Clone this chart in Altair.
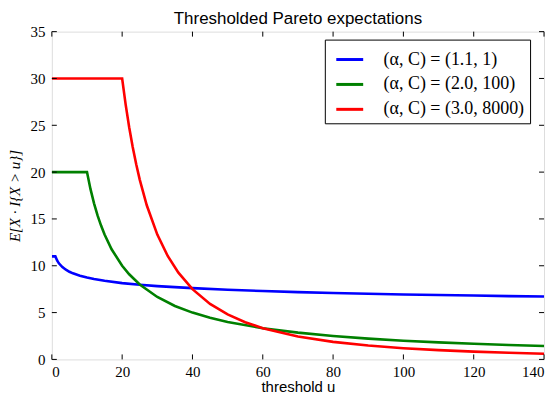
import altair as alt
import pandas as pd

# Series
title_text = ["Thresholded Pareto expectations"]
labels = ["(α, C) = (1.1, 1)", "(α, C) = (2.0, 100)", "(α, C) = (3.0, 8000)"]
colors = ["#0000ff", "#008000", "#ff0000"]

u1 = [0, 1, 1.5, 2, 3, 4, 5, 6, 8, 10, 12, 15, 20, 25, 30, 40, 50, 60, 70, 80, 90, 100, 110, 120, 130, 140]
v1 = [11, 11, 10.56, 10.26, 9.86, 9.58, 9.36, 9.19, 8.94, 8.74, 8.58, 8.39, 8.15, 7.97, 7.83, 7.61, 7.44,
      7.30, 7.19, 7.10, 7.01, 6.94, 6.88, 6.82, 6.76, 6.71]

u2 = [0, 10, 11, 12, 13, 14, 15, 17, 20, 22, 25, 30, 35, 40, 45, 50, 60, 70, 80, 90, 100, 110, 120, 130, 140]
v2 = [20, 20, 18.18, 16.67, 15.38, 14.29, 13.33, 11.76, 10, 9.09, 8, 6.67, 5.71, 5, 4.44, 4, 3.33, 2.86,
      2.5, 2.22, 2, 1.82, 1.67, 1.54, 1.43]

u3 = [0, 20, 21, 22, 23, 24, 25, 27, 30, 33, 36, 40, 45, 50, 55, 60, 70, 80, 90, 100, 110, 120, 130, 140]
v3 = [30, 30, 27.21, 24.79, 22.68, 20.83, 19.2, 16.46, 13.33, 11.02, 9.26, 7.5, 5.93, 4.8, 3.97, 3.33,
      2.45, 1.875, 1.48, 1.2, 0.99, 0.833, 0.71, 0.61]

x_ticks = [0, 20, 40, 60, 80, 100, 120, 140]
y_ticks = [0, 5, 10, 15, 20, 25, 30, 35]

rows = []
for lab, us, vs in zip(labels, [u1, u2, u3], [v1, v2, v3]):
    for i, (a, b) in enumerate(zip(us, vs)):
        rows.append({"series": lab, "u": a, "v": b, "order": i})
df = pd.DataFrame(rows)

W, H = 494, 329
SERIF = "Liberation Serif"
SANS = "Liberation Sans"

xscale = alt.Scale(domain=[0, 140], nice=False, zero=False)
yscale = alt.Scale(domain=[0, 35], nice=False, zero=False)

lines = alt.Chart(df).mark_line(strokeWidth=2.6, clip=True).encode(
    x=alt.X("u:Q", scale=xscale,
            axis=alt.Axis(values=x_ticks, title="threshold u", tickSize=0, domain=False, grid=False,
                          labelFont=SERIF, labelFontSize=15, labelPadding=5, labelColor="black",
                          titleFont=SANS, titleFontSize=15, titleFontWeight="normal", titleColor="black",
                          titleX=W / 2, titleY=27, titleBaseline="middle", titleAlign="center")),
    y=alt.Y("v:Q", scale=yscale,
            axis=alt.Axis(values=y_ticks, title="E[X · I{X > u}]", tickSize=0, domain=False, grid=False,
                          labelFont=SERIF, labelFontSize=15, labelPadding=7, labelColor="black",
                          titleFont=SERIF, titleFontSize=15, titleFontStyle="italic", titleFontWeight="normal",
                          titleColor="black", titleAngle=-90, titleX=-37, titleY=H / 2,
                          titleBaseline="middle", titleAlign="center")),
    color=alt.Color("series:N", sort=labels,
                    scale=alt.Scale(domain=labels, range=colors),
                    legend=alt.Legend(title=None, orient="none", legendX=274, legendY=8,
                                      symbolType="stroke", symbolStrokeWidth=3, symbolSize=729,
                                      labelFont=SERIF, labelFontSize=18, labelColor="black",
                                      labelOffset=19, padding=5, rowPadding=1, symbolOffset=5,
                                      strokeColor="black", fillColor="white", cornerRadius=0)),
    order="order:Q",
)

title = alt.Chart(pd.DataFrame({"t": title_text})).mark_text(
    font=SANS, fontSize=17, color="black", align="center", baseline="alphabetic"
).encode(text="t:N", x=alt.value(W / 2), y=alt.value(-8))

xt = pd.DataFrame({"t": x_ticks})
yt = pd.DataFrame({"t": y_ticks})
tick_style = dict(color="black", strokeWidth=1)
xb = alt.Chart(xt).mark_rule(**tick_style).encode(x=alt.X("t:Q", scale=xscale), y=alt.value(H), y2=alt.value(H - 5))
xtp = alt.Chart(xt).mark_rule(**tick_style).encode(x=alt.X("t:Q", scale=xscale), y=alt.value(0), y2=alt.value(5))
yl = alt.Chart(yt).mark_rule(**tick_style).encode(y=alt.Y("t:Q", scale=yscale), x=alt.value(0), x2=alt.value(5))
yr = alt.Chart(yt).mark_rule(**tick_style).encode(y=alt.Y("t:Q", scale=yscale), x=alt.value(W), x2=alt.value(W - 5))

chart = alt.layer(lines, xb, xtp, yl, yr, title).properties(
    width=W, height=H,
    autosize=alt.AutoSizeParams(type="none"),
    padding={"left": 44, "top": 23, "right": 5, "bottom": 36},
).configure_view(stroke="black", strokeWidth=1.2).configure(background="white")

chart.save("out.html", embed_options={"renderer": "svg", "actions": False})
